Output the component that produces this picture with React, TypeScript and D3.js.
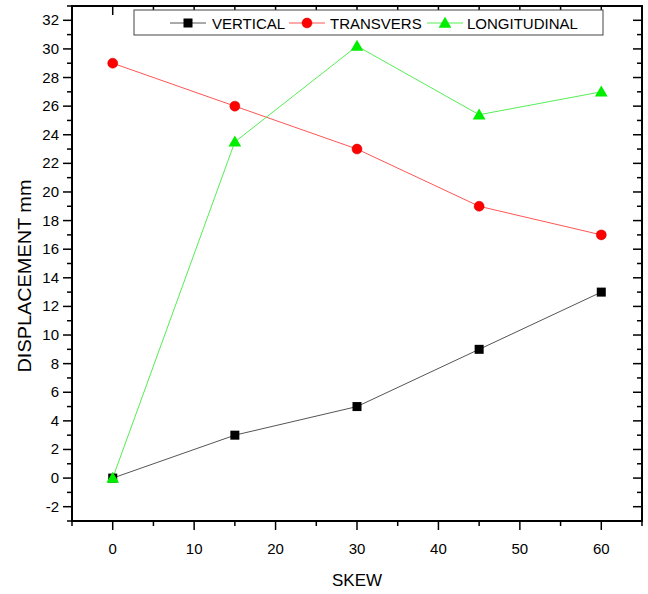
import React from "react";
import * as d3 from "d3";

const skew = [0, 15, 30, 45, 60];
const vertical = [0, 3, 5, 9, 13];
const transvers = [29, 26, 23, 19, 17];
const longitudinal = [0, 23.5, 30.2, 25.4, 27];
const seriesNames = ["VERTICAL", "TRANSVERS", "LONGITUDINAL"];
const lineColors = ["#555555", "#ff5555", "#55ee55"];

const width = 648;
const height = 594;
const left = 72;
const right = 642;
const top = 6;
const bottom = 521;

export default function App() {
  const x = d3.scaleLinear().domain([-5, 65]).range([left, right]);
  const y = d3.scaleLinear().domain([-3, 33]).range([bottom, top]);

  const xMajor = d3.range(0, 61, 10);
  const xMinor = d3.range(-5, 66, 10);
  const yMajor = d3.range(-2, 33, 2);
  const yMinor = d3.range(-3, 34, 2);

  const line = d3
    .line<[number, number]>()
    .x((d) => x(d[0]))
    .y((d) => y(d[1]));

  const all = [vertical, transvers, longitudinal];
  const font = "'Liberation Sans', Arial, sans-serif";

  const marker = (i: number, cx: number, cy: number, key: string) => {
    if (i === 0)
      return <rect key={key} x={cx - 4.5} y={cy - 4.5} width={9} height={9} fill="#000" />;
    if (i === 1)
      return <circle key={key} cx={cx} cy={cy} r={5} fill="#ff0000" stroke="#cc0000" strokeWidth={0.5} />;
    const tri = d3.symbol(d3.symbolTriangle, 70)();
    return <path key={key} d={tri || ""} transform={`translate(${cx},${cy + 1})`} fill="#00ee00" />;
  };

  const legendItems = [
    { x0: 170, tx: 212 },
    { x0: 289, tx: 330 },
    { x0: 427, tx: 467 },
  ];

  return (
    <svg width={width} height={height} style={{ position: "absolute", left: 0, top: 0 }}>
      <rect width={width} height={height} fill="#fff" />
      {/* series */}
      {all.map((vals, i) => (
        <path
          key={"l" + i}
          d={line(skew.map((s, j) => [s, vals[j]] as [number, number])) || ""}
          fill="none"
          stroke={lineColors[i]}
          strokeWidth={1}
        />
      ))}
      {all.map((vals, i) => vals.map((v, j) => marker(i, x(skew[j]), y(v), `m${i}-${j}`)))}

      {/* frame */}
      <rect x={left} y={top} width={right - left} height={bottom - top} fill="none" stroke="#000" strokeWidth={2} />

      {/* x ticks */}
      {xMajor.map((t) => (
        <g key={"xt" + t}>
          <line x1={x(t)} x2={x(t)} y1={bottom} y2={bottom + 9} stroke="#000" strokeWidth={1.5} />
          <line x1={x(t)} x2={x(t)} y1={top} y2={top + 9} stroke="#000" strokeWidth={1.5} />
          <text x={x(t)} y={bottom + 33} textAnchor="middle" fontFamily={font} fontSize={15}>
            {t}
          </text>
        </g>
      ))}
      {xMinor.map((t) => (
        <g key={"xm" + t}>
          <line x1={x(t)} x2={x(t)} y1={bottom} y2={bottom + 5} stroke="#000" strokeWidth={1.5} />
          <line x1={x(t)} x2={x(t)} y1={top} y2={top + 5} stroke="#000" strokeWidth={1.5} />
        </g>
      ))}

      {/* y ticks */}
      {yMajor.map((t) => (
        <g key={"yt" + t}>
          <line x1={left - 9} x2={left} y1={y(t)} y2={y(t)} stroke="#000" strokeWidth={1.5} />
          <line x1={right - 9} x2={right} y1={y(t)} y2={y(t)} stroke="#000" strokeWidth={1.5} />
          <text x={left - 13} y={y(t) + 5} textAnchor="end" fontFamily={font} fontSize={15}>
            {t}
          </text>
        </g>
      ))}
      {yMinor.map((t) => (
        <g key={"ym" + t}>
          <line x1={left - 5} x2={left} y1={y(t)} y2={y(t)} stroke="#000" strokeWidth={1.5} />
          <line x1={right - 5} x2={right} y1={y(t)} y2={y(t)} stroke="#000" strokeWidth={1.5} />
        </g>
      ))}

      {/* legend */}
      <rect x={134} y={10} width={469} height={25} fill="#fff" stroke="#444" strokeWidth={1} />
      {legendItems.map((it, i) => (
        <g key={"lg" + i}>
          <line x1={it.x0} x2={it.x0 + 36} y1={23} y2={23} stroke={lineColors[i]} strokeWidth={1} />
          {marker(i, it.x0 + 18, 23, "lm" + i)}
          <text x={it.tx} y={28.5} fontFamily={font} fontSize={15} fill="#000">
            {seriesNames[i]}
          </text>
        </g>
      ))}

      {/* axis titles */}
      <text x={357} y={586} textAnchor="middle" fontFamily={font} fontSize={17}>
        SKEW
      </text>
      <text
        transform={`translate(31, 276) rotate(-90)`}
        textAnchor="middle"
        fontFamily={font}
        fontSize={18}
        textLength={193}
        lengthAdjust="spacingAndGlyphs"
      >
        DISPLACEMENT mm
      </text>
    </svg>
  );
}
